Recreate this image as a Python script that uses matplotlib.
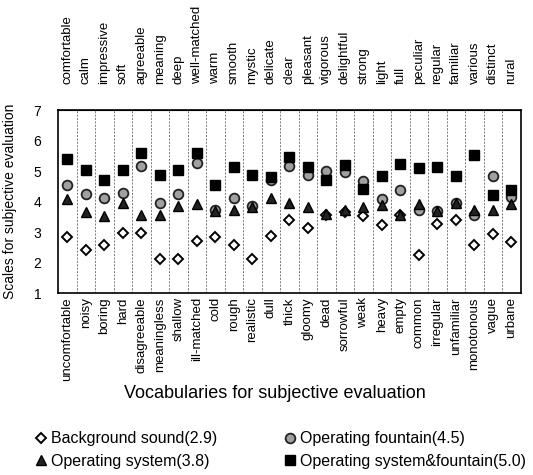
import numpy as np
import matplotlib.pyplot as plt

plt.rcParams['font.family'] = ['Liberation Sans', 'DejaVu Sans']

top_words = ['comfortable', 'calm', 'impressive', 'soft', 'agreeable', 'meaning', 'deep',
             'well-matched', 'warm', 'smooth', 'mystic', 'delicate', 'clear', 'pleasant',
             'vigorous', 'delightful', 'strong', 'light', 'full', 'peculiar', 'regular',
             'familiar', 'various', 'distinct', 'rural']
bottom_words = ['uncomfortable', 'noisy', 'boring', 'hard', 'disagreeable', 'meaningless',
                'shallow', 'ill-matched', 'cold', 'rough', 'realistic', 'dull', 'thick',
                'gloomy', 'dead', 'sorrowful', 'weak', 'heavy', 'empty', 'common',
                'irregular', 'unfamiliar', 'monotonous', 'vague', 'urbane']

background = [2.84, 2.42, 2.57, 2.98, 2.98, 2.13, 2.13, 2.71, 2.84, 2.57, 2.13, 2.86, 3.41,
              3.15, 3.55, 3.65, 3.52, 3.22, 3.55, 2.24, 3.26, 3.39, 2.57, 2.95, 2.67]
fountain = [4.56, 4.26, 4.13, 4.28, 5.16, 3.96, 4.26, 5.27, 3.72, 4.12, 3.85, 4.72, 5.16,
            4.86, 5.01, 4.97, 4.68, 4.10, 4.37, 3.71, 3.70, 3.95, 3.55, 4.83, 4.15]
system = [4.10, 3.66, 3.53, 3.96, 3.55, 3.55, 3.85, 3.93, 3.70, 3.71, 3.82, 4.13, 3.96,
          3.82, 3.58, 3.73, 3.82, 3.90, 3.55, 3.93, 3.69, 3.96, 3.71, 3.71, 3.93]
combined = [5.41, 5.03, 4.72, 5.03, 5.60, 4.86, 5.03, 5.58, 4.56, 5.14, 4.86, 4.81, 5.47,
            5.14, 4.70, 5.19, 4.43, 4.83, 5.23, 5.12, 5.14, 4.83, 5.54, 4.23, 4.39]

x = np.arange(len(top_words))

fig = plt.figure(figsize=(5.33, 4.75), dpi=100)
ax = fig.add_axes([0.109, 0.383, 0.868, 0.385])

# vertical separators between word pairs
for b in np.arange(0.5, len(x) - 1, 1):
    ax.axvline(b, color='#777777', lw=0.7, ls=(0, (2, 1.5)), zorder=0)

p1, = ax.plot(x, background, 'D', ms=5.5, mfc='white', mec='black', mew=1.4, ls='none')
p2, = ax.plot(x, fountain, 'o', ms=7, mfc='#a0a0a0', mec='#222222', mew=1.3, ls='none')
p3, = ax.plot(x, system, '^', ms=7.5, mfc='#222222', mec='black', ls='none')
p4, = ax.plot(x, combined, 's', ms=7.5, mfc='black', mec='black', ls='none')

ax.set_xlim(-0.5, len(x) - 0.5)
ax.set_ylim(1, 7)
ax.set_yticks(range(1, 8))
ax.tick_params(axis='y', labelsize=10, length=0, pad=12)
ax.set_xticks(x)
ax.set_xticklabels(bottom_words, rotation=90, fontsize=9.5)
ax.tick_params(axis='x', length=0, pad=3)
for s in ax.spines.values():
    s.set_linewidth(1.2)

top = ax.secondary_xaxis('top')
top.set_xticks(x)
top.set_xticklabels(top_words, rotation=90, fontsize=9.5)
top.tick_params(length=0, pad=19)

ax.set_ylabel('Scales for subjective evaluation', fontsize=10, labelpad=12)
fig.text(0.515, 0.163, 'Vocabularies for subjective evaluation', ha='center', fontsize=13)

fig.legend([p1, p3, p2, p4],
           ['Background sound(2.9)', 'Operating system(3.8)',
            'Operating fountain(4.5)', 'Operating system&fountain(5.0)'],
           ncol=2, loc='upper left', bbox_to_anchor=(0.035, 0.122), frameon=False,
           fontsize=11.5, handletextpad=0.1, columnspacing=4.1, labelspacing=0.45,
           handlelength=1.0)

fig.savefig('out.png', dpi=100)
